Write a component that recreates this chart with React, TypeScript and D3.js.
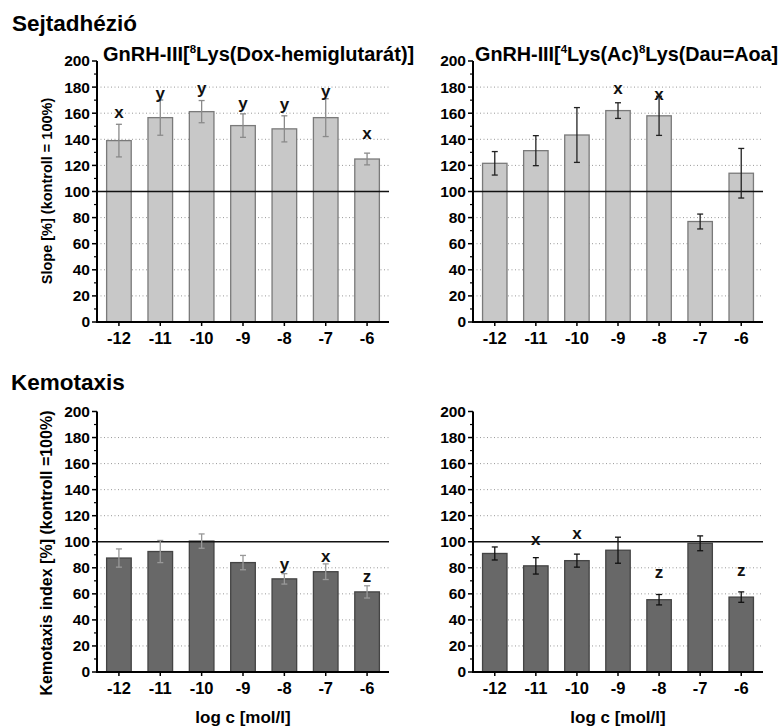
import React from "react";
import * as d3 from "d3";

const categories = ["-12", "-11", "-10", "-9", "-8", "-7", "-6"];
const yTicks = [0, 20, 40, 60, 80, 100, 120, 140, 160, 180, 200];

const adhDoxMean = [139, 156.6, 161.2, 150.5, 148, 156.6, 124.9];
const adhDoxErr = [12.5, 13.5, 8.5, 9, 10, 14.5, 4.5];
const adhDoxLetters = ["x", "y", "y", "y", "y", "y", "x"];
const adhDoxLetterAt = [160, 175, 179, 167.5, 166, 176, 144.5];

const adhDauMean = [121.6, 131.3, 143.3, 162, 158, 77, 114];
const adhDauErr = [9, 11.5, 21, 6, 15, 5.7, 19];
const adhDauLetters = ["", "", "", "x", "x", "", ""];
const adhDauLetterAt = [0, 0, 0, 178.4, 173.8, 0, 0];

const kemDoxMean = [87.5, 92.5, 100.5, 84, 71.5, 77, 61.5];
const kemDoxErr = [7, 8.5, 5.5, 5.5, 4, 6, 4.7];
const kemDoxLetters = ["", "", "", "", "y", "x", "z"];
const kemDoxLetterAt = [0, 0, 0, 0, 82, 88.5, 72.7];

const kemDauMean = [91, 81.5, 85.5, 93.5, 55.5, 98.8, 57.5];
const kemDauErr = [5, 6.3, 5, 10, 4, 5.7, 4];
const kemDauLetters = ["", "x", "x", "", "z", "", "z"];
const kemDauLetterAt = [0, 101.3, 105.7, 0, 75.8, 0, 77.8];

const FONT = "'Liberation Sans', Arial, sans-serif";

type PanelProps = {
  ax: number; ex: number; y0: number; y1: number;
  mean: number[]; err: number[]; letters: string[]; letterAt: number[];
  fill: string; stroke: string; errColor: string;
};

function Panel(p: PanelProps) {
  const x = d3.scalePoint<string>().domain(categories).range([p.ax, p.ex]).padding(0.53);
  const y = d3.scaleLinear().domain([0, 200]).range([p.y0, p.y1]);
  const bw = x.step() * 0.595;
  const minor = d3.range(10, 200, 20);
  return (
    <g fontFamily={FONT} fontWeight="bold">
      {yTicks.filter(t => t !== 0 && t !== 100 && t !== 200).map(t => (
        <line key={"g" + t} x1={p.ax} x2={p.ex} y1={y(t)} y2={y(t)}
          stroke="#999" strokeWidth={1} strokeDasharray="1,2.5" />
      ))}
      {categories.map((c, i) => {
        const cx = x(c)!;
        return (
          <rect key={"b" + c} x={cx - bw / 2} y={y(p.mean[i])} width={bw}
            height={y(0) - y(p.mean[i])} fill={p.fill} stroke={p.stroke} strokeWidth={1.3} />
        );
      })}
      <line x1={p.ax} x2={p.ex} y1={y(100)} y2={y(100)} stroke="#111" strokeWidth={1.6} />
      {categories.map((c, i) => {
        const cx = x(c)!;
        const lo = y(p.mean[i] - p.err[i]);
        const hi = y(p.mean[i] + p.err[i]);
        return (
          <g key={"e" + c} stroke={p.errColor} strokeWidth={1.3}>
            <line x1={cx} x2={cx} y1={lo} y2={hi} />
            <line x1={cx - 3} x2={cx + 3} y1={lo} y2={lo} />
            <line x1={cx - 3} x2={cx + 3} y1={hi} y2={hi} />
          </g>
        );
      })}
      {categories.map((c, i) => p.letters[i] ? (
        <text key={"l" + c} x={x(c)!} y={y(p.letterAt[i])} dy="0.3em" textAnchor="middle"
          fontSize={17} fill="#111">{p.letters[i]}</text>
      ) : null)}
      <line x1={p.ax} x2={p.ax} y1={y(0) + 1} y2={y(200)} stroke="#000" strokeWidth={2} />
      <line x1={p.ax - 1} x2={p.ex} y1={y(0)} y2={y(0)} stroke="#000" strokeWidth={2} />
      {yTicks.map(t => (
        <g key={"t" + t}>
          <line x1={p.ax - 5} x2={p.ax} y1={y(t)} y2={y(t)} stroke="#000" strokeWidth={1.5} />
          <text x={p.ax - 7} y={y(t)} dy="0.35em" textAnchor="end" fontSize={15.5} fill="#000">{t}</text>
        </g>
      ))}
      {minor.map(t => (
        <line key={"m" + t} x1={p.ax - 3} x2={p.ax} y1={y(t)} y2={y(t)} stroke="#000" strokeWidth={1.2} />
      ))}
      {categories.map(c => (
        <g key={"xt" + c}>
          <line x1={x(c)!} x2={x(c)!} y1={y(0)} y2={y(0) + 4} stroke="#000" strokeWidth={1.5} />
          <text x={x(c)!} y={y(0) + 22} textAnchor="middle" fontSize={16.5} fill="#000">{c}</text>
        </g>
      ))}
    </g>
  );
}

export default function App() {
  return (
    <svg width={782} height={727} style={{ position: "absolute", left: 0, top: 0, background: "#fff" }}>
      <rect width={782} height={727} fill="#fff" />
      <text x={12} y={31} fontFamily={FONT} fontWeight="bold" fontSize={22.5} fill="#000">Sejtadhézió</text>
      <text x={11} y={390} fontFamily={FONT} fontWeight="bold" fontSize={22.5} fill="#000">Kemotaxis</text>

      <text x={103} y={61} fontFamily={FONT} fontWeight="bold" fontSize={20} fill="#000">
        GnRH-III[<tspan fontSize={11.5} dy={-8}>8</tspan><tspan dy={8}>Lys(Dox-hemiglutarát)]</tspan>
      </text>
      <text x={475} y={61} fontFamily={FONT} fontWeight="bold" fontSize={19.8} fill="#000">
        GnRH-III[<tspan fontSize={11.5} dy={-8}>4</tspan><tspan dy={8}>Lys(Ac)</tspan><tspan fontSize={11.5} dy={-8}>8</tspan><tspan dy={8}>Lys(Dau=Aoa]</tspan>
      </text>

      <text transform="translate(52,191) rotate(-90)" textAnchor="middle" fontFamily={FONT}
        fontWeight="bold" fontSize={14.5} fill="#000">Slope [%] (kontroll = 100%)</text>
      <text transform="translate(52,553) rotate(-90)" textAnchor="middle" fontFamily={FONT}
        fontWeight="bold" fontSize={16} fill="#000">Kemotaxis index [%] (kontroll =100%)</text>

      <Panel ax={97} ex={389} y0={322} y1={61} mean={adhDoxMean} err={adhDoxErr}
        letters={adhDoxLetters} letterAt={adhDoxLetterAt} fill="#c8c8c8" stroke="#7a7a7a" errColor="#8a8a8a" />
      <Panel ax={473} ex={763} y0={322} y1={61} mean={adhDauMean} err={adhDauErr}
        letters={adhDauLetters} letterAt={adhDauLetterAt} fill="#c8c8c8" stroke="#7a7a7a" errColor="#222" />
      <Panel ax={97} ex={389} y0={672} y1={411.5} mean={kemDoxMean} err={kemDoxErr}
        letters={kemDoxLetters} letterAt={kemDoxLetterAt} fill="#686868" stroke="#444" errColor="#999" />
      <Panel ax={473} ex={763} y0={672} y1={411.5} mean={kemDauMean} err={kemDauErr}
        letters={kemDauLetters} letterAt={kemDauLetterAt} fill="#686868" stroke="#444" errColor="#111" />

      <text x={243} y={723} textAnchor="middle" fontFamily={FONT} fontWeight="bold" fontSize={17}>log c [mol/l]</text>
      <text x={618} y={723} textAnchor="middle" fontFamily={FONT} fontWeight="bold" fontSize={17}>log c [mol/l]</text>
    </svg>
  );
}
